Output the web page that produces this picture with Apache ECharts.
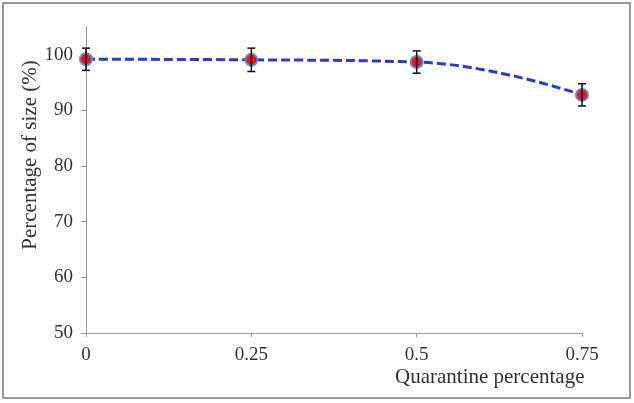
<!DOCTYPE html>
<html><head><meta charset="utf-8">
<script src="https://cdn.jsdelivr.net/npm/echarts@6/dist/echarts.min.js"></script>
<style>html,body{margin:0;padding:0;background:#fff}#c{width:634px;height:403px}</style>
</head><body><div id="c"></div>
<script>
var xValues = [0, 0.25, 0.5, 0.75];
var yValues = [99.2, 99.1, 98.7, 92.8];
var errValues = [2.0, 2.1, 2.0, 2.0];
var yTicks = [50, 60, 70, 80, 90, 100];
var xTicks = [0, 0.25, 0.5, 0.75];

var lineData = xValues.map(function(x, i){ return [x, yValues[i]]; });
var errData = xValues.map(function(x, i){ return [x, yValues[i] - errValues[i], yValues[i] + errValues[i]]; });
var font = 'Liberation Serif';

var chart = echarts.init(document.getElementById('c'));
chart.setOption({
  animation: false,
  grid: {left: 86, right: 52, top: 27, bottom: 70, containLabel: false},
  xAxis: {
    type: 'value', min: 0, max: 0.75, interval: 0.25,
    splitLine: {show: false},
    axisLine: {lineStyle: {color: '#9a9a9a', width: 1}},
    axisTick: {show: true, length: 4, lineStyle: {color: '#9a9a9a'}},
    axisLabel: {margin: 13, color: '#333', fontFamily: font, fontSize: 19,
      customValues: xTicks,
      formatter: function(v){ return String(v); }}
  },
  yAxis: {
    type: 'value', min: 50, max: 105, interval: 10,
    splitLine: {show: false},
    axisLine: {show: true, lineStyle: {color: '#9a9a9a', width: 1}},
    axisTick: {show: true, length: 5, customValues: yTicks, lineStyle: {color: '#9a9a9a'}},
    axisLabel: {margin: 13, color: '#333', fontFamily: font, fontSize: 19, customValues: yTicks}
  },
  graphic: [
    {type: 'rect', shape: {x: 3, y: 3, width: 627, height: 395}, style: {fill: 'none', stroke: '#9a9a9a', lineWidth: 2}, silent: true},
    {type: 'text', left: 395, top: 367, style: {text: 'Quarantine percentage', font: '21px "Liberation Serif"', fill: '#333'}},
    {type: 'text', x: 30, y: 155, rotation: Math.PI / 2, style: {text: 'Percentage of size (%)', font: '21px "Liberation Serif"', fill: '#333', align: 'center', verticalAlign: 'middle'}}
  ],
  series: [
    {
      type: 'line', data: lineData, smooth: 0.45, z: 2,
      lineStyle: {color: '#1f3fd6', width: 3, type: [9, 4]},
      symbol: 'circle', symbolSize: 12,
      itemStyle: {color: '#e8141c', borderColor: '#5b8fd6', borderWidth: 2}
    },
    {
      type: 'custom', data: errData, z: 3,
      renderItem: function(params, api){
        var x = api.value(0);
        var lo = api.coord([x, api.value(1)]);
        var hi = api.coord([x, api.value(2)]);
        var w = 4;
        var st = {stroke: '#111', lineWidth: 1.5};
        return {type: 'group', children: [
          {type: 'line', shape: {x1: lo[0], y1: lo[1], x2: hi[0], y2: hi[1]}, style: st},
          {type: 'line', shape: {x1: lo[0]-w, y1: lo[1], x2: lo[0]+w, y2: lo[1]}, style: st},
          {type: 'line', shape: {x1: hi[0]-w, y1: hi[1], x2: hi[0]+w, y2: hi[1]}, style: st}
        ]};
      }
    }
  ]
});
</script></body></html>
